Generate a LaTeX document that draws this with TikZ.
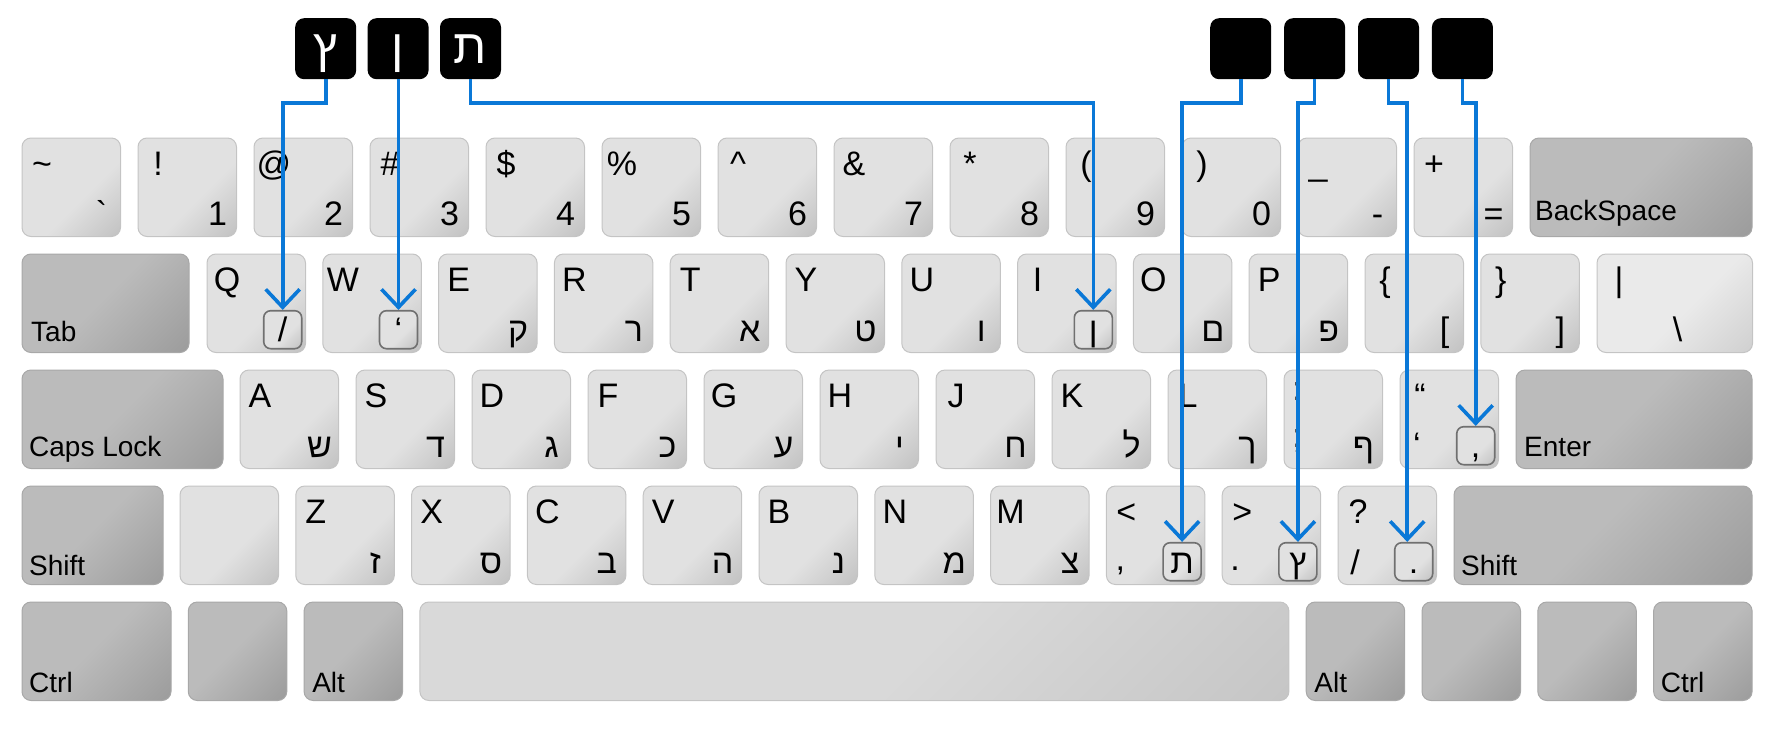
\documentclass[tikz,border=0pt]{standalone}
\usepackage{fontspec}
\setmainfont{Liberation Sans}
\usetikzlibrary{arrows.meta,positioning}

\definecolor{lk1}{HTML}{E1E1E1}
\definecolor{lk2}{HTML}{C2C2C2}
\definecolor{dk1}{HTML}{BBBBBB}
\definecolor{dk2}{HTML}{9C9C9C}
\definecolor{sp1}{HTML}{D9D9D9}
\definecolor{sp2}{HTML}{C6C6C6}
\definecolor{pp1}{HTML}{EAEAEA}
\definecolor{pp2}{HTML}{D0D0D0}
\definecolor{keyline}{HTML}{C4C4C4}
\definecolor{modline}{HTML}{A8A8A8}
\definecolor{boxline}{HTML}{707070}
\definecolor{linkblue}{HTML}{0A78D7}

\pgfdeclareverticalshading{lightkey}{100bp}{color(0bp)=(lk2); color(15bp)=(lk2); color(42bp)=(lk1); color(100bp)=(lk1)}
\pgfdeclareverticalshading{darkkey}{100bp}{color(0bp)=(dk2); color(15bp)=(dk2); color(52bp)=(dk1); color(100bp)=(dk1)}
\pgfdeclareverticalshading{spacekey}{100bp}{color(0bp)=(sp2); color(15bp)=(sp2); color(45bp)=(sp1); color(100bp)=(sp1)}
\pgfdeclareverticalshading{pipekey}{100bp}{color(0bp)=(pp2); color(15bp)=(pp2); color(45bp)=(pp1); color(100bp)=(pp1)}

\begin{document}
\begin{tikzpicture}[x=1pt, y=-1pt,
    keycap/.style={rectangle, rounded corners=9pt, line width=1pt, inner sep=0pt, outer sep=0pt, minimum width=98.5pt, minimum height=98.5pt, anchor=north west},
    lkey/.style={keycap, draw=keyline, shade, shading=lightkey, shading angle=45},
    dkey/.style={keycap, draw=modline, shade, shading=darkkey, shading angle=45},
    skey/.style={keycap, draw=keyline, shade, shading=spacekey, shading angle=45},
    pkey/.style={keycap, draw=keyline, shade, shading=pipekey, shading angle=45},
    hebbox/.style={rectangle, rounded corners=7pt, draw=boxline, line width=1.6pt, shade, shading=lightkey, shading angle=45, minimum size=38pt, inner sep=0pt, anchor=south east},
    blk/.style={rectangle, rounded corners=9pt, fill=black, text=white, minimum size=61pt, inner sep=0pt, text height=32pt, text depth=3pt, font=\fontsize{48}{56}\selectfont},
    lab/.style={anchor=base, inner sep=0pt, font=\fontsize{34}{40}\selectfont},
    modlab/.style={anchor=base west, inner sep=0pt, font=\fontsize{28}{32}\selectfont},
    conn/.style={draw=linkblue, line width=3.6pt, -{Straight Barb[length=18pt, width=34pt]}}
]
\useasboundingbox (0,0) rectangle (1776,728);

% Number row
\foreach \up/\dn [count=\i] in {\textasciitilde/\textasciigrave, !/1, @/2, \#/3, \$/4, \%/5, \textasciicircum/6, \&/7, */8, {(}/9, {)}/0, \_/-, +/=} {
  \node[lkey] (n\i) at ({22+(\i-1)*116},138) {};
  \node[lab] (n\i-u) at ([shift={(20,37)}]n\i.north west) {\up};
  \node[lab] (n\i-d) at ([shift={(-19,-11)}]n\i.south east) {\dn};
}
\node[dkey, minimum width=222pt] (bksp) at (1530,138) {};
\node[modlab] (bksp-t) at ([shift={(5,-16)}]bksp.south west) {BackSpace};

% Top letter row
\node[dkey, minimum width=167pt] (tab) at (22,254) {};
\node[modlab] (tab-t) at ([shift={(9,-11)}]tab.south west) {Tab};
\foreach \up/\dn [count=\i] in {Q/{}, W/{}, E/ק, R/ר, T/א, Y/ט, U/ו, I/{}, O/ם, P/פ, \{/[, \}/]} {
  \node[lkey] (q\i) at ({207+(\i-1)*115.8},254) {};
  \node[lab] (q\i-u) at ([shift={(20,37)}]q\i.north west) {\up};
  \node[lab] (q\i-d) at ([shift={(-19,-11)}]q\i.south east) {\dn};
}
\node[pkey, minimum width=155.5pt] (bar) at (1597,254) {};
\node[lab] (bar-u) at ([shift={(22,37)}]bar.north west) {\textbar};
\node[lab] (bar-d) at ([shift={(-75,-11)}]bar.south east) {\textbackslash};

% Home row
\node[dkey, minimum width=201pt] (caps) at (22,370) {};
\node[modlab] (caps-t) at ([shift={(7,-12)}]caps.south west) {Caps Lock};
\foreach \up/\dn [count=\i] in {A/ש, S/ד, D/ג, F/כ, G/ע, H/י, J/ח, K/ל, L/ך, {}/ף, “/{}} {
  \node[lkey] (a\i) at ({240+(\i-1)*116},370) {};
  \node[lab] (a\i-u) at ([shift={(20,37)}]a\i.north west) {\up};
  \node[lab] (a\i-d) at ([shift={(-19,-11)}]a\i.south east) {\dn};
}
\node[lab] (colon) at ([shift={(13,30)}]a10.north west) {:};
\node[lab] (semi) at ([shift={(13,-21)}]a10.south west) {;};
\node[lab] (apos) at ([shift={(17,-12)}]a11.south west) {‘};
\node[dkey, minimum width=236pt] (enter) at (1516,370) {};
\node[modlab] (enter-t) at ([shift={(8,-12)}]enter.south west) {Enter};

% Bottom letter row
\node[dkey, minimum width=141pt] (lshift) at (22,486) {};
\node[modlab] (lshift-t) at ([shift={(7,-9)}]lshift.south west) {Shift};
\foreach \up/\dn [count=\i] in {{}/{}, Z/ז, X/ס, C/ב, V/ה, B/נ, N/מ, M/צ, </{}, >/{}, ?/{}} {
  \node[lkey] (z\i) at ({180+(\i-1)*115.8},486) {};
  \node[lab] (z\i-u) at ([shift={(20,37)}]z\i.north west) {\up};
  \node[lab] (z\i-d) at ([shift={(-19,-11)}]z\i.south east) {\dn};
}
\node[lab] (comma) at ([shift={(14,-14)}]z9.south west) {,};
\node[lab] (period) at ([shift={(13,-14)}]z10.south west) {.};
\node[lab] (slash) at ([shift={(17,-10)}]z11.south west) {/};
\node[dkey, minimum width=298pt] (rshift) at (1454,486) {};
\node[modlab] (rshift-t) at ([shift={(7,-9)}]rshift.south west) {Shift};

% Space row
\node[dkey, minimum width=149pt] (lctrl) at (22,602) {};
\node[dkey, right=17.3pt of lctrl] (lwin) {};
\node[dkey, right=17.3pt of lwin] (lalt) {};
\node[skey, minimum width=869pt, right=17.3pt of lalt] (space) {};
\node[dkey, right=17.3pt of space] (ralt) {};
\node[dkey, right=17.3pt of ralt] (rwin) {};
\node[dkey, right=17.3pt of rwin] (menu) {};
\node[dkey, right=17.3pt of menu] (rctrl) {};
\node[modlab] (lctrl-t) at ([shift={(7,-8)}]lctrl.south west) {Ctrl};
\node[modlab] (lalt-t) at ([shift={(8,-8)}]lalt.south west) {Alt};
\node[modlab] (ralt-t) at ([shift={(8,-8)}]ralt.south west) {Alt};
\node[modlab] (rctrl-t) at ([shift={(7,-8)}]rctrl.south west) {Ctrl};

% Hebrew boxes on keys
\node[hebbox] (qbox) at ([shift={(-3,-3)}]q1.south east) {};
\node[hebbox] (wbox) at ([shift={(-3,-3)}]q2.south east) {};
\node[hebbox] (ibox) at ([shift={(-3,-3)}]q8.south east) {};
\node[hebbox] (qtbox) at ([shift={(-3,-3)}]a11.south east) {};
\node[hebbox] (ltbox) at ([shift={(-3,-3)}]z9.south east) {};
\node[hebbox] (gtbox) at ([shift={(-3,-3)}]z10.south east) {};
\node[hebbox] (qmbox) at ([shift={(-3,-3)}]z11.south east) {};
\node[lab] (qbox-t) at ([shift={(0,-8)}]qbox.south) {/};
\node[lab] (wbox-t) at ([shift={(0,-8)}]wbox.south) {‘};
\node[lab] (ibox-t) at ([shift={(0,-8)}]ibox.south) {ן};
\node[lab] (qtbox-t) at ([shift={(0,-8)}]qtbox.south) {,};
\node[lab] (ltbox-t) at ([shift={(0,-8)}]ltbox.south) {ת};
\node[lab] (gtbox-t) at ([shift={(0,-8)}]gtbox.south) {ץ};
\node[lab] (qmbox-t) at ([shift={(0,-8)}]qmbox.south) {.};

% Black boxes
\node[blk, anchor=north west] (b1) at (295,18) {ץ};
\node[blk, right=11pt of b1] (b2) {ן};
\node[blk, right=11pt of b2] (b3) {ת};
\node[blk, anchor=north west] (b4) at (1210,18) {};
\node[blk, right=12.5pt of b4] (b5) {};
\node[blk, right=12.5pt of b5] (b6) {};
\node[blk, right=12.5pt of b6] (b7) {};

% Lines
\coordinate (bus) at (0,103);
\coordinate (qmtip) at ([xshift=-6.5pt]qmbox.north);
\draw[conn] (b1.south) |- (qbox.north |- bus) -- (qbox.north);
\draw[conn] (wbox.north |- b2.south) -- (wbox.north);
\draw[conn] (b3.south) |- (ibox.north |- bus) -- (ibox.north);
\draw[conn] (b4.south) |- (ltbox.north |- bus) -- (ltbox.north);
\draw[conn] (b5.south) |- (gtbox.north |- bus) -- (gtbox.north);
\draw[conn] (b6.south) |- (qmtip |- bus) -- (qmtip);
\draw[conn] (b7.south) |- (qtbox.north |- bus) -- (qtbox.north);

\end{tikzpicture}
\end{document}
